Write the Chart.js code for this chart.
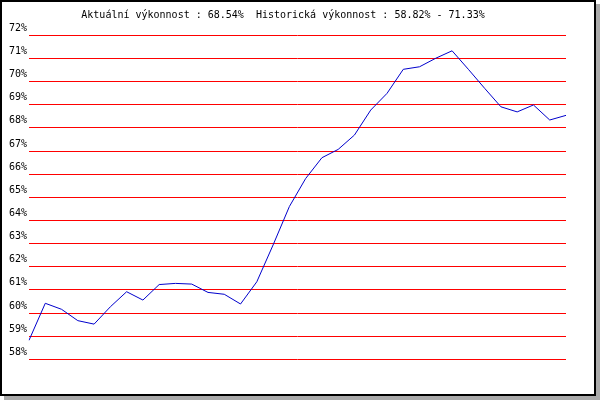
<!DOCTYPE html>
<html>
<head>
<meta charset="utf-8">
<script src="https://cdn.jsdelivr.net/npm/chart.js@4"></script>
<style>
  html, body { margin: 0; padding: 0; background: #fff; }
  #wrap { position: relative; width: 600px; height: 400px; }
  #frame {
    position: absolute; left: 0; top: 0; width: 596px; height: 396px;
    box-sizing: border-box; border: 2px solid #000; background: #fff;
    box-shadow: 4px 4px 0 0 #aaaaaa;
  }
  #c { position: absolute; left: 0; top: 0; }
</style>
</head>
<body>
<div id="wrap">
  <div id="frame"></div>
  <canvas id="c" width="600" height="400"></canvas>
</div>
<script>
const titleText = 'Aktuální výkonnost : 68.54%  Historická výkonnost : 58.82% - 71.33%';
const categories = ['1','2','3','4','5','6','7','8','9','10','11','12','13','14','15','16','17',
  '18','19','20','21','22','23','24','25','26','27','28','29','30','31','32','33','34'];
const performance = [58.82, 60.42, 60.16, 59.67, 59.52, 60.27, 60.92, 60.56, 61.23, 61.28,
  61.25, 60.89, 60.81, 60.39, 61.35, 62.94, 64.60, 65.81, 66.71, 67.07, 67.69, 68.77,
  69.49, 70.53, 70.64, 71.01, 71.33, 70.53, 69.71, 68.91, 68.69, 68.99, 68.34, 68.54];
const tickValues = [58, 59, 60, 61, 62, 63, 64, 65, 66, 67, 68, 69, 70, 71, 72];
const tickLabels = ['58%','59%','60%','61%','62%','63%','64%','65%','66%','67%','68%','69%','70%','71%','72%'];

Chart.defaults.font.family = '"DejaVu Sans Mono", "Liberation Mono", monospace';
Chart.defaults.font.size = 10;
Chart.defaults.color = '#000';

new Chart(document.getElementById('c'), {
  type: 'line',
  data: {
    labels: categories,
    datasets: [{
      data: performance,
      borderColor: '#0000cc',
      borderWidth: 1,
      pointRadius: 0,
      tension: 0,
      fill: false
    }]
  },
  options: {
    responsive: false,
    devicePixelRatio: 1,
    animation: false,
    layout: { padding: { left: 0, right: 34, top: 0, bottom: 40.7 } },
    plugins: {
      legend: { display: false },
      tooltip: { enabled: false },
      title: {
        display: true,
        text: titleText,
        align: 'center',
        color: '#000',
        font: { size: 10, weight: 'normal', lineHeight: 1.2 },
        padding: { top: 9, bottom: 14.3 }
      }
    },
    scales: {
      x: {
        display: false,
        offset: false
      },
      y: {
        min: 58,
        max: 72,
        afterFit: (s) => { s.width = 29; },
        afterBuildTicks: (s) => { s.ticks = tickValues.map(v => ({ value: v })); },
        border: { display: false },
        grid: { color: '#ff0000', lineWidth: 1, drawTicks: false },
        ticks: {
          padding: 2,
          labelOffset: -7,
          callback: (v) => tickLabels[tickValues.indexOf(v)]
        }
      }
    }
  }
});
</script>
</body>
</html>
